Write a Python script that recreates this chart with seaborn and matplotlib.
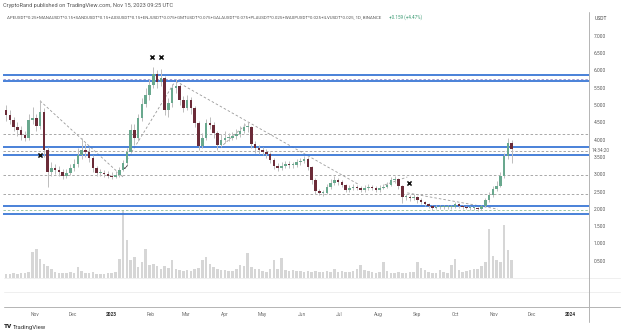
import pandas as pd
import matplotlib
matplotlib.use("Agg")
import matplotlib.pyplot as plt
import matplotlib.dates as mdates
from matplotlib.lines import Line2D
import seaborn as sns

sns.set_theme(style="white")
plt.rcParams['font.family'] = ['Roboto', 'DejaVu Sans']

# ---- basket index, 3-day candles from 2022-10-09 ----
start = "2022-10-09"
first_open = 4.85
closes = [4.71, 4.57, 4.36, 4.28, 4.13, 4.05, 4.57, 4.62, 4.39, 4.80,
          3.70, 3.06, 3.18, 3.12, 3.06, 2.95, 3.03, 3.18, 3.29, 3.55,
          3.70, 3.64, 3.47, 3.18, 3.03, 3.03, 3.01, 2.95, 2.92, 2.98,
          3.12, 3.32, 3.64, 4.28, 4.05, 4.62, 5.03, 5.29, 5.58, 5.90,
          5.66, 5.78, 4.86, 5.06, 5.49, 5.55, 5.14, 4.91, 5.14, 4.91,
          4.48, 3.82, 4.05, 4.48, 4.42, 4.19, 3.84, 3.99, 4.05, 4.05,
          4.10, 4.16, 4.25, 4.36, 4.36, 3.87, 3.76, 3.70, 3.64, 3.58,
          3.41, 3.24, 3.18, 3.24, 3.29, 3.27, 3.27, 3.35, 3.38, 3.44,
          3.21, 2.83, 2.51, 2.46, 2.46, 2.63, 2.75, 2.83, 2.77, 2.69,
          2.54, 2.60, 2.63, 2.60, 2.54, 2.60, 2.63, 2.60, 2.54, 2.60,
          2.63, 2.69, 2.83, 2.86, 2.66, 2.34, 2.34, 2.31, 2.34, 2.25,
          2.20, 2.14, 2.08, 2.02, 2.05, 2.05, 2.05, 2.05, 2.05, 2.14,
          2.08, 2.05, 2.02, 2.02, 2.02, 1.99, 2.08, 2.25, 2.40, 2.57,
          2.66, 2.95, 3.53, 3.90, 3.716]
highs = [5.00, 4.85, 4.65, 4.50, 4.40, 4.25, 4.75, 4.95, 4.75, 5.14,
         4.90, 3.80, 3.35, 3.30, 3.25, 3.15, 3.15, 3.30, 3.45, 3.75,
         4.05, 3.90, 3.80, 3.55, 3.25, 3.15, 3.12, 3.10, 3.05, 3.08,
         3.20, 3.40, 3.75, 4.45, 4.45, 4.75, 5.20, 5.50, 5.75, 6.10,
         6.00, 6.05, 5.85, 5.20, 5.60, 5.75, 5.62, 5.25, 5.30, 5.22,
         4.98, 4.55, 4.20, 4.60, 4.65, 4.50, 4.25, 4.15, 4.25, 4.20,
         4.22, 4.30, 4.38, 4.48, 4.50, 4.40, 3.95, 3.85, 3.80, 3.72,
         3.65, 3.48, 3.32, 3.35, 3.38, 3.38, 3.36, 3.45, 3.48, 3.52,
         3.50, 3.25, 2.88, 2.58, 2.55, 2.72, 2.85, 2.95, 2.90, 2.82,
         2.72, 2.68, 2.72, 2.70, 2.66, 2.68, 2.72, 2.70, 2.65, 2.68,
         2.72, 2.78, 2.92, 2.95, 2.90, 2.70, 2.42, 2.40, 2.42, 2.38,
         2.30, 2.24, 2.18, 2.12, 2.10, 2.10, 2.10, 2.11, 2.10, 2.20,
         2.17, 2.11, 2.08, 2.07, 2.07, 2.06, 2.12, 2.32, 2.48, 2.65,
         2.80, 3.05, 3.60, 4.05, 3.98]
lows = [4.55, 4.45, 4.25, 4.10, 4.00, 3.95, 4.00, 4.45, 4.25, 4.30,
        3.50, 2.63, 2.95, 3.00, 2.95, 2.85, 2.88, 2.98, 3.10, 3.20,
        3.45, 3.50, 3.35, 3.05, 2.95, 2.95, 2.93, 2.88, 2.85, 2.88,
        2.92, 3.08, 3.25, 3.60, 3.85, 3.95, 4.55, 4.95, 5.15, 5.50,
        5.50, 5.55, 4.70, 4.65, 4.95, 5.35, 5.00, 4.80, 4.85, 4.75,
        4.35, 3.70, 3.75, 3.98, 4.30, 4.05, 3.70, 3.78, 3.90, 3.95,
        3.98, 4.02, 4.08, 4.18, 4.22, 3.75, 3.62, 3.58, 3.55, 3.48,
        3.32, 3.15, 3.10, 3.12, 3.18, 3.18, 3.18, 3.22, 3.28, 3.32,
        3.12, 2.72, 2.42, 2.40, 2.38, 2.42, 2.58, 2.70, 2.70, 2.62,
        2.48, 2.50, 2.55, 2.54, 2.48, 2.50, 2.55, 2.54, 2.48, 2.50,
        2.56, 2.60, 2.65, 2.76, 2.58, 2.18, 2.26, 2.24, 2.25, 2.18,
        2.13, 2.08, 2.02, 1.97, 1.98, 2.00, 2.00, 2.00, 2.00, 2.02,
        2.03, 2.00, 1.98, 1.97, 1.97, 1.95, 1.96, 2.05, 2.20, 2.35,
        2.52, 2.62, 2.90, 3.45, 3.32]
volumes = [4, 4, 5, 4, 5, 5, 6, 26, 29, 19,
           14, 12, 9, 6, 5, 5, 5, 6, 5, 11,
           7, 5, 5, 6, 4, 4, 4, 5, 5, 6,
           19, 68, 38, 18, 21, 11, 16, 29, 13, 14,
           12, 9, 12, 10, 18, 9, 8, 7, 8, 7,
           9, 10, 18, 21, 14, 11, 9, 8, 8, 7,
           7, 9, 13, 12, 25, 11, 9, 9, 7, 6,
           9, 18, 9, 20, 8, 7, 8, 7, 7, 6,
           7, 6, 7, 6, 6, 7, 6, 9, 6, 7,
           6, 6, 7, 9, 13, 8, 7, 6, 5, 6,
           16, 7, 5, 5, 6, 5, 5, 6, 6, 16,
           10, 8, 6, 5, 5, 8, 6, 5, 13, 19,
           8, 6, 7, 8, 9, 9, 12, 16, 49, 22,
           18, 16, 53, 28, 18]

# horizontal levels
zone_levels = [5.87, 5.68, 3.79, 3.56, 2.08, 1.84]
zone_mids = [(5.74, '#a59bd0'), (3.66, '#a8a8a8'), (1.97, '#9cc7a8')]
dashed_levels = [4.16, 2.98, 2.43]

# trend lines (date, price) -> (date, price)
trend_lines = [
    (("2022-11-05", 5.12), ("2023-01-10", 2.92)),
    (("2023-01-13", 3.41), ("2023-02-21", 5.72)),
    (("2023-02-21", 5.69), ("2023-07-17", 2.69)),
    (("2023-03-28", 3.76), ("2023-04-18", 4.45)),
    (("2023-08-06", 2.69), ("2023-08-24", 2.92)),
    (("2023-08-24", 2.46), ("2023-11-04", 1.99)),
]
cross_dates = ["2022-11-05", "2023-02-02", "2023-02-09", "2023-08-25"]
cross_prices = [3.55, 6.39, 6.39, 2.75]
check_date, check_price = "2023-01-12", 3.18

month_ticks = pd.date_range("2022-11-01", "2024-01-01", freq="MS")

# ---- figure ----
W, H, DPI = 624, 335, 100
fig = plt.figure(figsize=(W / DPI, H / DPI), dpi=DPI)
fig.patch.set_facecolor("white")


def px_box(left, top, right, bottom):
    return [left / W, 1 - bottom / H, (right - left) / W, (bottom - top) / H]


ax = fig.add_axes(px_box(3, 12, 589, 307))
axv = ax.twinx()
ax.set_zorder(axv.get_zorder() + 1)
ax.patch.set_visible(False)

dates = pd.date_range(start, periods=len(closes), freq="3D")
xs = mdates.date2num(dates)
opens = [first_open] + closes[:-1]

# volume, sitting on the bottom of the price pane
axv.bar(xs, volumes, width=2.0, color="#d6d6d6", linewidth=0)
axv.set_ylim(-29, 266)
axv.set_yticks([])
axv.set_ylabel("")
for s in axv.spines.values():
    s.set_visible(False)

# horizontal zones
for lv in dashed_levels:
    ax.axhline(lv, color="#9a9a9a", lw=0.6, ls=(0, (3, 2.5)), zorder=1)
for lv, c in zone_mids:
    ax.axhline(lv, color=c, lw=0.7, ls=(0, (2.5, 2)), zorder=1)
for lv in zone_levels:
    ax.axhline(lv, color="#3a77d6", lw=1.3, zorder=2)

# trend lines
for (d1, p1), (d2, p2) in trend_lines:
    sns.lineplot(x=[pd.Timestamp(d1), pd.Timestamp(d2)], y=[p1, p2], ax=ax,
                 color="#9a9a9a", lw=0.6, linestyle=(0, (3, 2.5)), zorder=1)

# candles
ax.vlines(xs, lows, highs, color="#bdbdbd", lw=0.7, zorder=3)
bottoms = [min(o, c) for o, c in zip(opens, closes)]
heights = [max(abs(c - o), 0.025) for o, c in zip(opens, closes)]
colors = ["#69a88e" if c >= o else "#6b2b38" for o, c in zip(opens, closes)]
ax.bar(xs, heights, bottom=bottoms, width=2.0, color=colors, linewidth=0, zorder=4)

# annotations
sns.scatterplot(x=pd.to_datetime(cross_dates), y=cross_prices, ax=ax, marker="x",
                color="#111111", s=9, linewidth=1.1, zorder=6)
ax.text(mdates.date2num(pd.Timestamp(check_date)), check_price, "✓",
        fontsize=5, ha="center", va="center", color="#111111",
        family=["DejaVu Sans"], zorder=6)

# axes scaling
x0 = mdates.date2num(pd.Timestamp(start))
ax.set_xlim(x0 - 2.47, x0 + 463.5)
ax.set_ylim(-0.838, 7.688)
ax.set_xlabel("")
ax.set_ylabel("")

ax.yaxis.tick_right()
yt = [0.5 * k for k in range(1, 15)]
ax.set_yticks(yt)
ax.set_yticklabels([f"{v:.3f}" for v in yt])
ax.tick_params(axis="y", length=0, pad=3.2, labelsize=3.5, labelcolor="#555555")

ax.set_xticks(mdates.date2num(month_ticks))
ax.set_xticklabels([str(d.year) if d.month == 1 else d.strftime("%b") for d in month_ticks])
ax.tick_params(axis="x", length=0, pad=3.5, labelsize=3.5, labelcolor="#6a6a6a")
for lab, d in zip(ax.get_xticklabels(), month_ticks):
    if d.month == 1:
        lab.set_fontweight("bold")
        lab.set_color("#333333")
for s in ax.spines.values():
    s.set_visible(False)
ax.grid(False)

# pane frame lines
def fig_hline(y, x1, x2, color, lw):
    fig.add_artist(Line2D([x1 / W, x2 / W], [1 - y / H, 1 - y / H], color=color, lw=lw))

fig_hline(278, 4, 620, "#ececec", 0.6)
fig_hline(292, 4, 620, "#ececec", 0.6)
fig_hline(307, 4, 620, "#b4b4b4", 0.7)
fig.add_artist(Line2D([589 / W, 589 / W], [1 - 12 / H, 1 - 322 / H], color="#b4b4b4", lw=0.7))

# header text, sized to its line width
fig.canvas.draw()
renderer = fig.canvas.get_renderer()


def fit_text(x, y, s, width, **kw):
    t = fig.text(x / W, 1 - y / H, s, ha="left", va="center", fontsize=4, **kw)
    w = t.get_window_extent(renderer).width
    t.set_fontsize(4 * width / w)
    return t


fit_text(3, 6, "CryptoRand published on TradingView.com, Nov 15, 2023 09:25 UTC", 171,
         color="#555555")
fit_text(7, 17, "APEUSDT*0.25+MANAUSDT*0.15+SANDUSDT*0.15+AXSUSDT*0.15+ENJUSDT*0.075+"
         "GMTUSDT*0.075+GALAUSDT*0.075+PLAUSDT*0.025+WAXPUSDT*0.025+ILVUSDT*0.025, 1D, BINANCE",
         377, color="#555555")
fit_text(389, 17, "+0.159 (+4.47%)", 33, color="#3a9a72")
fig.text(595 / W, 1 - 19 / H, "USDT", ha="left", va="center", fontsize=3.6, color="#444444")
fig.text(592 / W, 1 - 151 / H, "14:34:20", ha="left", va="center", fontsize=3.4, color="#666666")
fig.text(4 / W, 1 - 327 / H, "TV", ha="left", va="center", fontsize=4.6,
         fontweight="heavy", color="#222222")
fig.text(13 / W, 1 - 327 / H, "TradingView", ha="left", va="center", fontsize=4.3,
         color="#333333")

fig.savefig("out.png", dpi=DPI, facecolor="white")
